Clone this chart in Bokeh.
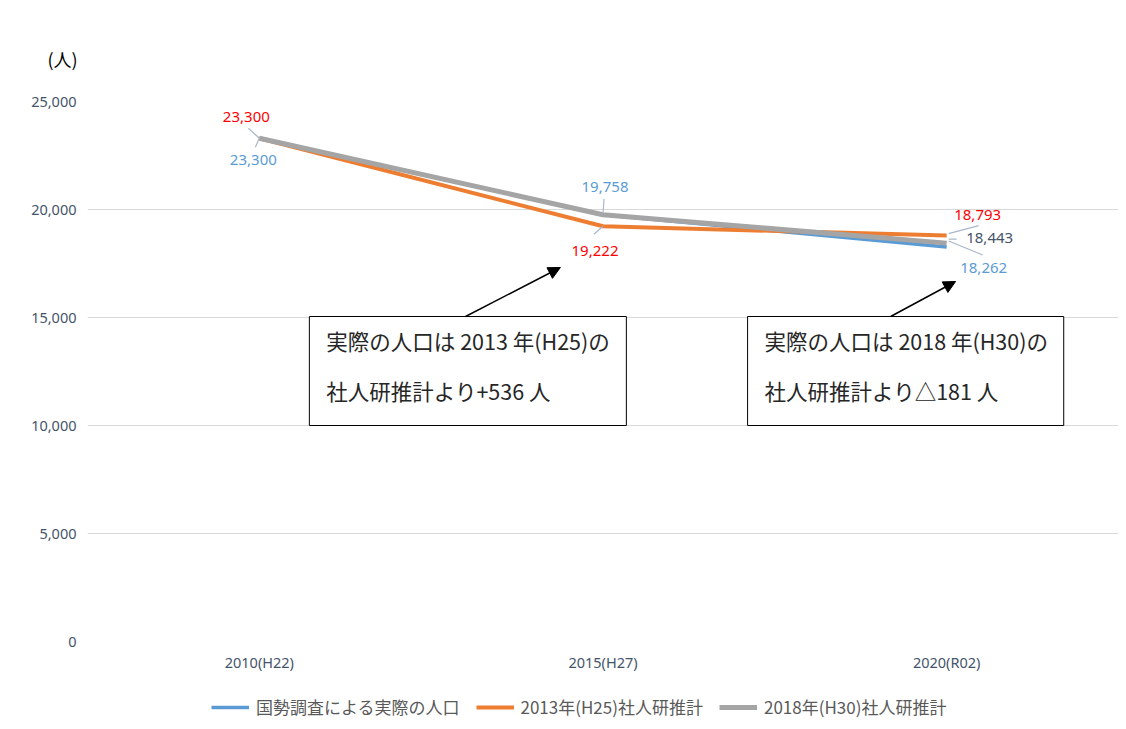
from bokeh.plotting import figure
from bokeh.layouts import column
from bokeh.models import (Range1d, FixedTicker, NumeralTickFormatter, Legend, LegendItem,
                          BoxAnnotation, Label, Arrow, NormalHead, ColumnDataSource, Title)
from bokeh.embed import file_html
from bokeh.resources import INLINE
from bokeh.core.properties import value

# ---------------- data ----------------
categories = ["2010(H22)", "2015(H27)", "2020(R02)"]
actual = [23300, 19758, 18262]
est_2013 = [23300, 19222, 18793]
est_2018 = [23300, 19758, 18443]
series_names = ["国勢調査による実際の人口", "2013年(H25)社人研推計", "2018年(H30)社人研推計"]
y_ticks = [0, 5000, 10000, 15000, 20000, 25000]
unit_label = "(人)"
note1 = ["実際の人口は 2013 年(H25)の", "社人研推計より+536 人"]
note2 = ["実際の人口は 2018 年(H30)の", "社人研推計より△181 人"]

# ---------------- styles ----------------
BLUE, ORANGE, GRAY = "#5B9BD5", "#ED7D31", "#A5A5A5"
RED, SLATE = "#FF0000", "#44546A"
LEADER = "#A9B7CB"
NUM_FONT = "Noto Sans"
JP_FONT = "Noto Sans CJK JP"
LINE_STYLES = [(BLUE, 3.5), (ORANGE, 4), (GRAY, 5)]

W = 1120
H1, H2 = 688, 36
ML, MR, MT = 87, 2, 101
FRAME_W = W - ML - MR
FRAME_H = 540
Y_MAX = y_ticks[-1]
xs = list(range(len(categories)))

p = figure(width=W, height=H1, output_backend="svg", toolbar_location=None,
           x_range=Range1d(-0.5, len(categories) - 0.5), y_range=Range1d(0, Y_MAX),
           min_border_left=ML, min_border_right=MR, min_border_top=MT,
           min_border_bottom=H1 - MT - FRAME_H)
p.outline_line_color = None
p.background_fill_color = "white"
p.border_fill_color = "white"

px_x = FRAME_W / len(categories)   # pixels per category unit
per_px_y = Y_MAX / FRAME_H         # persons per pixel


def shift(xi, yv, dx, dy):
    return xi + dx / px_x, yv - dy * per_px_y


# unit label (above the frame)
p.add_layout(Title(text=unit_label, align="left", offset=-40, standoff=55,
                   vertical_align="top",
                   text_font=JP_FONT, text_font_size="18px", text_font_style="normal",
                   text_color="black"), "above")

# axes
p.xaxis.ticker = FixedTicker(ticks=xs)
p.xaxis.major_label_overrides = {i: c for i, c in enumerate(categories)}
p.yaxis.ticker = FixedTicker(ticks=y_ticks)
p.yaxis.formatter = NumeralTickFormatter(format="0,0")
for ax in (p.xaxis, p.yaxis):
    ax.axis_line_color = None
    ax.major_tick_line_color = None
    ax.minor_tick_line_color = None
    ax.major_tick_out = 0
    ax.major_tick_in = 0
    ax.major_label_text_font = NUM_FONT
    ax.major_label_text_font_size = "14.5px"
    ax.major_label_text_color = SLATE
p.yaxis.major_label_standoff = 11
p.xaxis.major_label_standoff = 10
p.xgrid.grid_line_color = None
p.ygrid.grid_line_color = "#D9D9D9"
p.ygrid.grid_line_width = 1

# lines
series = [actual, est_2013, est_2018]
for ser, (c, w) in zip(series, LINE_STYLES):
    p.line(xs, ser, line_color=c, line_width=w)

# leader lines: (series, index, start dx, start dy, end dx, end dy) in pixels
leaders = [
    (est_2013, 0, 0, 0, -11, -10),
    (actual, 0, 0, 0, -4, 9),
    (actual, 1, 0, -1, 1, -16),
    (est_2013, 1, 0, 0, -9, 8),
    (est_2013, 2, 2, -2, 32, -10),
    (est_2018, 2, 2, -4, 10, -4),
    (actual, 2, 2, -6, 36, 8),
]
x0s, y0s, x1s, y1s = [], [], [], []
for ser, i, sx, sy, ex, ey in leaders:
    a = shift(xs[i], ser[i], sx, sy)
    b = shift(xs[i], ser[i], ex, ey)
    x0s.append(a[0]); y0s.append(a[1]); x1s.append(b[0]); y1s.append(b[1])
p.segment(x0s, y0s, x1s, y1s, line_color=LEADER, line_width=1.2)

# data labels: (series, index, colour, dx, dy)
label_specs = [
    (est_2013, 0, RED, -13, -21),
    (actual, 0, BLUE, -6, 22),
    (actual, 1, BLUE, 2, -28),
    (est_2013, 1, RED, -8, 25),
    (est_2013, 2, RED, 31, -21),
    (est_2018, 2, SLATE, 43, -5),
    (actual, 2, BLUE, 37, 21),
]
src = ColumnDataSource(dict(
    x=[xs[i] for _, i, _, _, _ in label_specs],
    y=[s[i] for s, i, _, _, _ in label_specs],
    text=[f"{s[i]:,}" for s, i, _, _, _ in label_specs],
    color=[c for _, _, c, _, _ in label_specs],
    dx=[d for _, _, _, d, _ in label_specs],
    dy=[d for _, _, _, _, d in label_specs],
))
p.text(x="x", y="y", text="text", x_offset="dx", y_offset="dy", text_color="color",
       source=src, text_align="center", text_baseline="middle",
       text_font=value(NUM_FONT), text_font_size="15px")


# callout boxes + arrows
def callout(left, right, top_v, bottom_v, lines, ax0, ay0, ax1, ay1):
    p.add_layout(BoxAnnotation(left=left, right=right, top=top_v, bottom=bottom_v,
                               fill_color="white", fill_alpha=1.0,
                               line_color="black", line_width=1, line_alpha=1.0))
    for k, t in enumerate(lines):
        p.add_layout(Label(x=left, y=top_v, x_offset=17, y_offset=-(24 + 50 * k), text=t,
                           text_font=JP_FONT, text_font_size="21.5px", text_color="#262626",
                           text_align="left", text_baseline="middle"))
    p.add_layout(Arrow(end=NormalHead(size=12, fill_color="black", line_color="black"),
                       x_start=ax0, y_start=ay0, x_end=ax1, y_end=ay1,
                       line_color="black", line_width=1.5))


box_top = 15046
box_bottom = 10000
callout(0.1456, 1.068, box_top, box_bottom, note1, 0.600, box_top, 0.876, 17315)
callout(1.4207, 2.3406, box_top, box_bottom, note2, 1.837, box_top, 2.026, 16667)

# legend strip (separate small figure under the chart; its view range is
# placed away from the data so only the legend is visible)
p2 = figure(width=W, height=H2, output_backend="svg", toolbar_location=None,
            x_range=Range1d(100, 101), y_range=Range1d(100, 101),
            x_axis_location=None, y_axis_location=None,
            min_border_left=0, min_border_right=0, min_border_top=0, min_border_bottom=0)
p2.outline_line_color = None
p2.grid.visible = False
p2.background_fill_color = "white"
p2.border_fill_color = "white"
items = []
for name, ser, (c, w) in zip(series_names, series, LINE_STYLES):
    r = p2.line(xs, ser, line_color=c, line_width=w)
    items.append(LegendItem(label=name, renderers=[r]))
legend = Legend(items=items, orientation="horizontal", location=(124, 5),
                glyph_width=38, glyph_height=20, label_standoff=7, spacing=16,
                padding=3, margin=0, border_line_color=None, background_fill_alpha=0,
                label_text_font=JP_FONT, label_text_font_size="17px",
                label_text_color="#595959", label_height=20)
p2.add_layout(legend)

layout = column(p, p2, spacing=0)
open("out.html", "w").write(file_html(layout, INLINE))
